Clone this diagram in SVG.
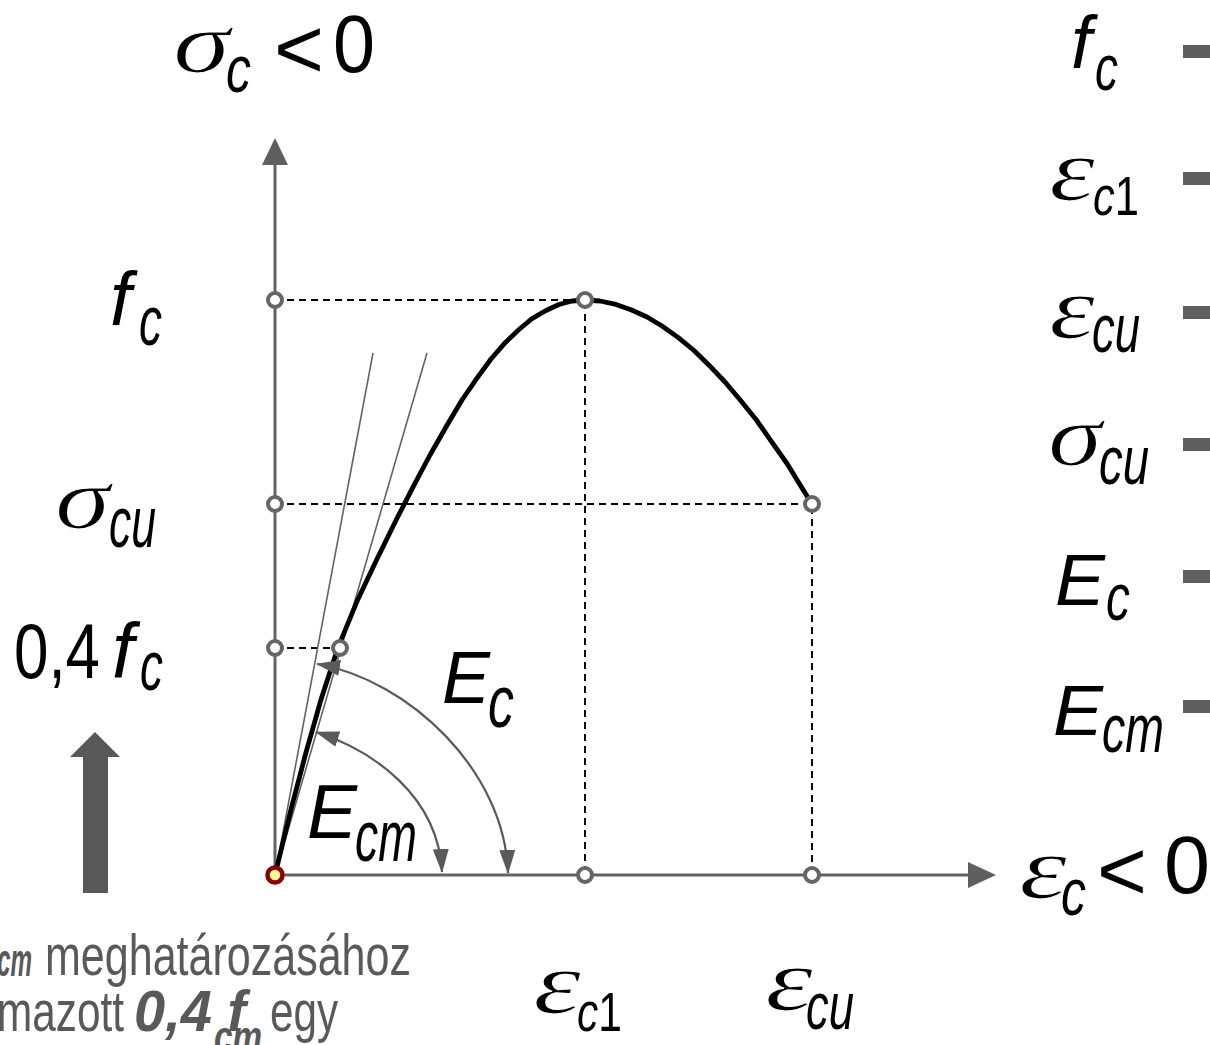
<svg xmlns="http://www.w3.org/2000/svg" width="1210" height="1045" viewBox="0 0 1210 1045">
<style>
.g{font-family:'Liberation Serif','Times New Roman',serif;font-style:italic;fill:#000;stroke:#fff;stroke-width:1.2}
.s{font-family:'Liberation Sans',Arial,sans-serif;font-style:italic;fill:#000}
.u{font-style:normal}
.r{font-family:'Liberation Sans',Arial,sans-serif;fill:#000}
.t{font-family:'Liberation Sans',Arial,sans-serif;fill:#595959}
.tb{font-family:'Liberation Sans',Arial,sans-serif;fill:#595959;font-weight:bold;font-style:italic}
.axis{stroke:#636363;stroke-width:3;fill:none}
.dash{stroke:#000;stroke-width:1.9;stroke-dasharray:7 5;fill:none}
.thin{stroke:#636363;stroke-width:1.6;fill:none}
.arc{stroke:#5a5a5a;stroke-width:2.2;fill:none;marker-start:url(#ah);marker-end:url(#ah)}
.pt{fill:#fff;stroke:#666;stroke-width:4}
.bul{fill:#5f5f5f}
</style>
<defs>
<marker id="ah" markerUnits="userSpaceOnUse" viewBox="0 0 24 16" refX="23" refY="8" markerWidth="24" markerHeight="16" orient="auto-start-reverse">
<path d="M0,0 L24,8 L0,16 z" fill="#5a5a5a"/>
</marker>
</defs>
<rect width="1210" height="1045" fill="#fff"/>

<g id="connectors">
<path class="axis" d="M275,875 V163"/>
<path d="M275,138 L262,165 L288,165 z" fill="#5f5f5f"/>
<path class="axis" d="M275,875 H970"/>
<path d="M996,875 L968,862 L968,888 z" fill="#5f5f5f"/>
<path class="dash" d="M275,300 H585 V875"/>
<path class="dash" d="M275,504 H812 V875"/>
<path class="dash" d="M275,648 H340"/>
<path class="thin" d="M275,875 L373,353"/>
<path class="thin" d="M275,875 L427,353"/>
<path id="curve" d="M275,875 L290.5,811.4 L306,752.4 L321.5,697.9 L338,647.6 L357,601.3 L377,558.9 L396,520.3 L414,485.2 L430,455 L447,425.3 L462,400 L477,378.2 L491,359 L505,342.9 L519,329.5 L532,318.6 L546,310.5 L559,304.5 L572,301 L585,300 L600,301 L616,304.4 L631,309.8 L647,317 L662,326 L678,337.4 L694,350.5 L709,365.2 L725,382 L740,399.8 L756,419.5 L771,440.8 L787,463.5 L802,487.9 L812,504" fill="none" stroke="#000" stroke-width="4.8" stroke-linejoin="round"/>
<path class="arc" d="M316,732 C372,750 438,795 442,872"/>
<path class="arc" d="M317,664 C410,680 505,772 508,873"/>
</g>

<g id="points">
<circle class="pt" cx="275" cy="300" r="7"/>
<circle class="pt" cx="585" cy="300" r="7"/>
<circle class="pt" cx="275" cy="504" r="7"/>
<circle class="pt" cx="812" cy="504" r="7"/>
<circle class="pt" cx="275" cy="648" r="7"/>
<circle class="pt" cx="340" cy="648" r="7"/>
<circle class="pt" cx="585" cy="875" r="7"/>
<circle class="pt" cx="812" cy="875" r="7"/>
<circle cx="275" cy="875" r="7.5" fill="#ffff99" stroke="#8b0000" stroke-width="4.5"/>
</g>

<g id="label-sigma-axis">
<text class="g" x="173" y="72" font-size="86" textLength="57" lengthAdjust="spacingAndGlyphs">σ</text>
<text class="s" x="226" y="92" font-size="66" textLength="25" lengthAdjust="spacingAndGlyphs">c</text>
<text class="r" x="274" y="78" font-size="86" textLength="50" lengthAdjust="spacingAndGlyphs">&lt;</text>
<text class="r" x="333" y="72" font-size="82" textLength="42" lengthAdjust="spacingAndGlyphs">0</text>
</g>

<g id="label-eps-axis">
<text class="g" x="1019" y="898" font-size="88" textLength="48" lengthAdjust="spacingAndGlyphs">ε</text>
<text class="s" x="1061" y="915" font-size="66" textLength="25" lengthAdjust="spacingAndGlyphs">c</text>
<text class="r" x="1097" y="900" font-size="86" textLength="50" lengthAdjust="spacingAndGlyphs">&lt;</text>
<text class="r" x="1164" y="893" font-size="82" textLength="46" lengthAdjust="spacingAndGlyphs">0</text>
</g>

<g id="label-fc">
<text class="s" x="110" y="325" font-size="76">f</text>
<text class="s" x="139" y="345" font-size="70" textLength="23" lengthAdjust="spacingAndGlyphs">c</text>
</g>
<g id="label-sigmacu">
<text class="g" x="55" y="528" font-size="86" textLength="55" lengthAdjust="spacingAndGlyphs">σ</text>
<text class="s" x="109" y="547" font-size="72" textLength="47" lengthAdjust="spacingAndGlyphs">cu</text>
</g>
<g id="label-04fc">
<text class="r" x="14" y="678" font-size="77" textLength="86" lengthAdjust="spacingAndGlyphs">0,4</text>
<text class="s" x="112" y="678" font-size="78">f</text>
<text class="s" x="140" y="690" font-size="70" textLength="23" lengthAdjust="spacingAndGlyphs">c</text>
</g>

<g id="label-Ec">
<text class="s" x="442" y="703" font-size="74" textLength="48" lengthAdjust="spacingAndGlyphs">E</text>
<text class="s" x="488" y="727" font-size="74" textLength="26" lengthAdjust="spacingAndGlyphs">c</text>
</g>
<g id="label-Ecm">
<text class="s" x="307" y="838" font-size="76" textLength="50" lengthAdjust="spacingAndGlyphs">E</text>
<text class="s" x="355" y="861" font-size="72" textLength="62" lengthAdjust="spacingAndGlyphs">cm</text>
</g>

<g id="label-epsc1">
<text class="g" x="533" y="1013" font-size="88" textLength="48" lengthAdjust="spacingAndGlyphs">ε</text>
<text class="s" x="577" y="1031" font-size="56" textLength="45" lengthAdjust="spacingAndGlyphs">c<tspan class="u">1</tspan></text>
</g>
<g id="label-epscu">
<text class="g" x="765" y="1010" font-size="88" textLength="48" lengthAdjust="spacingAndGlyphs">ε</text>
<text class="s" x="806" y="1029" font-size="66" textLength="48" lengthAdjust="spacingAndGlyphs">cu</text>
</g>

<g id="legend-fc">
<text class="s" x="1071" y="68" font-size="74">f</text>
<text class="s" x="1095" y="90" font-size="64" textLength="23" lengthAdjust="spacingAndGlyphs">c</text>
<rect class="bul" x="1183" y="45" width="30" height="13"/>
</g>
<g id="legend-epsc1">
<text class="g" x="1049" y="200" font-size="88" textLength="46" lengthAdjust="spacingAndGlyphs">ε</text>
<text class="s" x="1093" y="215" font-size="56" textLength="46" lengthAdjust="spacingAndGlyphs">c<tspan class="u">1</tspan></text>
<rect class="bul" x="1183" y="172" width="30" height="13"/>
</g>
<g id="legend-epscu">
<text class="g" x="1049" y="338" font-size="88" textLength="46" lengthAdjust="spacingAndGlyphs">ε</text>
<text class="s" x="1092" y="352" font-size="68" textLength="48" lengthAdjust="spacingAndGlyphs">cu</text>
<rect class="bul" x="1183" y="306" width="30" height="13"/>
</g>
<g id="legend-sigmacu">
<text class="g" x="1048" y="465" font-size="86" textLength="54" lengthAdjust="spacingAndGlyphs">σ</text>
<text class="s" x="1099" y="484" font-size="68" textLength="50" lengthAdjust="spacingAndGlyphs">cu</text>
<rect class="bul" x="1183" y="438" width="30" height="13"/>
</g>
<g id="legend-Ec">
<text class="s" x="1055" y="605" font-size="72" textLength="50" lengthAdjust="spacingAndGlyphs">E</text>
<text class="s" x="1106" y="620" font-size="66" textLength="24" lengthAdjust="spacingAndGlyphs">c</text>
<rect class="bul" x="1183" y="570" width="30" height="13"/>
</g>
<g id="legend-Ecm">
<text class="s" x="1053" y="735" font-size="70" textLength="50" lengthAdjust="spacingAndGlyphs">E</text>
<text class="s" x="1102" y="752" font-size="68" textLength="62" lengthAdjust="spacingAndGlyphs">cm</text>
<rect class="bul" x="1183" y="700" width="30" height="13"/>
</g>

<g id="up-arrow">
<path d="M95,732 L70,757 L83,757 L83,893 L108,893 L108,757 L120,757 z" fill="#595959"/>
</g>

<g id="note">
<text class="tb" x="-3" y="976" font-size="46" textLength="35" lengthAdjust="spacingAndGlyphs">cm</text>
<text class="t" x="45" y="975" font-size="58" textLength="366" lengthAdjust="spacingAndGlyphs">meghatározásához</text>
<text class="t" x="-3" y="1031" font-size="58" textLength="127" lengthAdjust="spacingAndGlyphs">mazott</text>
<text class="tb" x="134" y="1031" font-size="58" textLength="112" lengthAdjust="spacingAndGlyphs">0,4 f</text>
<text class="tb" x="214" y="1052" font-size="44" textLength="48" lengthAdjust="spacingAndGlyphs">cm</text>
<text class="t" x="270" y="1031" font-size="58" textLength="68" lengthAdjust="spacingAndGlyphs">egy</text>
</g>
</svg>
